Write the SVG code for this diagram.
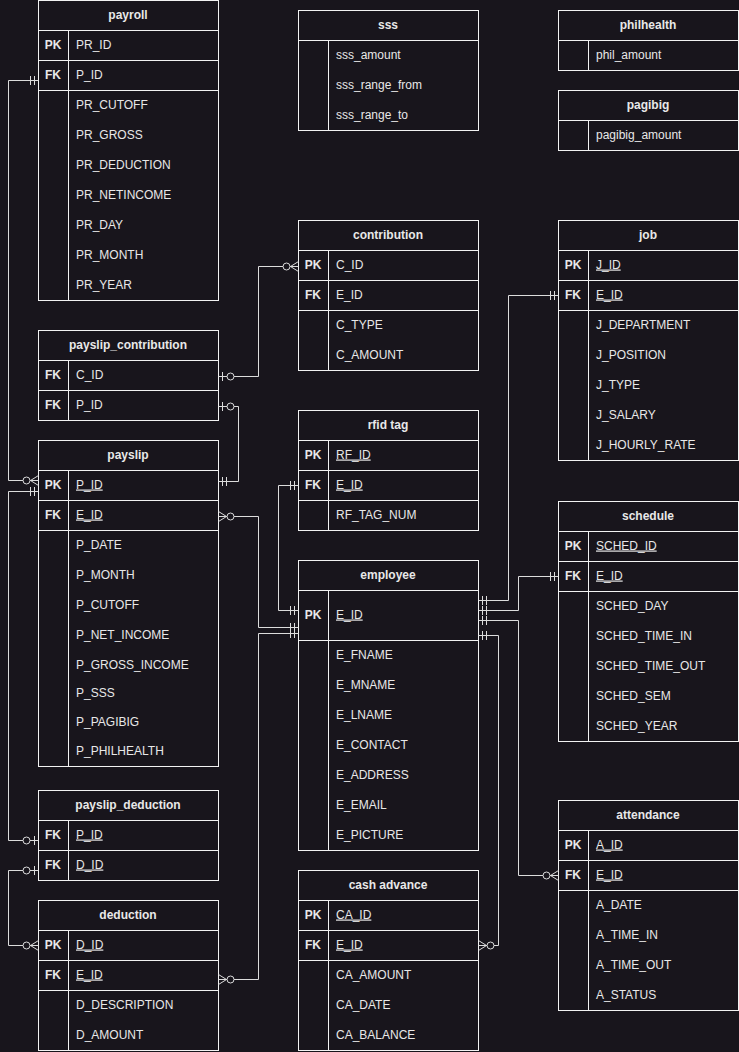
<svg xmlns="http://www.w3.org/2000/svg" width="739" height="1052" viewBox="0 0 739 1052">
<style>
.bg{fill:#18151c}
.tb{fill:#18151c;stroke:#f2f2f2;stroke-width:1}
.ln{stroke:#f2f2f2;stroke-width:1;fill:none}
text{font-family:"Liberation Sans",Arial,sans-serif;font-size:12px;fill:#e8e8e8;transform:translate(-0.5px,-1px)}
.t{font-weight:bold;text-anchor:middle}
.k{font-weight:bold;text-anchor:middle}
.u{text-decoration:underline}
.c{fill:none;stroke:#dcdcdc;stroke-width:1}
.mk{fill:none;stroke:#dcdcdc;stroke-width:1}
.mkc{fill:#18151c;stroke:#dcdcdc;stroke-width:1}
</style>
<defs>
<marker id="mOne" markerUnits="userSpaceOnUse" orient="auto-start-reverse" refX="0" refY="0" markerWidth="1" markerHeight="1" overflow="visible">
<path class="mk" d="M-8,-4.5V4.5M-4,-4.5V4.5"/>
</marker>
<marker id="zMany" markerUnits="userSpaceOnUse" orient="auto-start-reverse" refX="0" refY="0" markerWidth="1" markerHeight="1" overflow="visible">
<path class="mk" d="M-8,0L0,-5M-8,0L0,5"/>
<circle class="mkc" cx="-12" cy="0" r="3.5"/>
</marker>
<marker id="zOne" markerUnits="userSpaceOnUse" orient="auto-start-reverse" refX="0" refY="0" markerWidth="1" markerHeight="1" overflow="visible">
<path class="mk" d="M-4,-4.5V4.5"/>
<circle class="mkc" cx="-12" cy="0" r="3.5"/>
</marker>
</defs>
<rect class="bg" x="0" y="0" width="739" height="1052"/>
<g transform="translate(0.5,0.5)">

<g id="payroll">
<rect class="tb" x="38" y="0" width="180" height="300"/>
<path class="ln" d="M38,30H218M38,60H218M38,90H218M68,30V300"/>
<text class="t" x="128" y="19">payroll</text>
<text class="k" x="53" y="49">PK</text><text x="76" y="49">PR_ID</text>
<text class="k" x="53" y="79">FK</text><text x="76" y="79">P_ID</text>
<text x="76" y="109">PR_CUTOFF</text>
<text x="76" y="139">PR_GROSS</text>
<text x="76" y="169">PR_DEDUCTION</text>
<text x="76" y="199">PR_NETINCOME</text>
<text x="76" y="229">PR_DAY</text>
<text x="76" y="259">PR_MONTH</text>
<text x="76" y="289">PR_YEAR</text>
</g>

<g id="sss">
<rect class="tb" x="298" y="10" width="180" height="120"/>
<path class="ln" d="M298,40H478M328,40V130"/>
<text class="t" x="388" y="29">sss</text>
<text x="336" y="59">sss_amount</text>
<text x="336" y="89">sss_range_from</text>
<text x="336" y="119">sss_range_to</text>
</g>

<g id="philhealth">
<rect class="tb" x="558" y="10" width="180" height="60"/>
<path class="ln" d="M558,40H738M588,40V70"/>
<text class="t" x="648" y="29">philhealth</text>
<text x="596" y="59">phil_amount</text>
</g>

<g id="pagibig">
<rect class="tb" x="558" y="90" width="180" height="60"/>
<path class="ln" d="M558,120H738M588,120V150"/>
<text class="t" x="648" y="109">pagibig</text>
<text x="596" y="139">pagibig_amount</text>
</g>

<g id="contribution">
<rect class="tb" x="298" y="220" width="180" height="150"/>
<path class="ln" d="M298,250H478M298,280H478M298,310H478M328,250V370"/>
<text class="t" x="388" y="239">contribution</text>
<text class="k" x="313" y="269">PK</text><text x="336" y="269">C_ID</text>
<text class="k" x="313" y="299">FK</text><text x="336" y="299">E_ID</text>
<text x="336" y="329">C_TYPE</text>
<text x="336" y="359">C_AMOUNT</text>
</g>

<g id="job">
<rect class="tb" x="558" y="220" width="180" height="240"/>
<path class="ln" d="M558,250H738M558,280H738M558,310H738M588,250V460"/>
<text class="t" x="648" y="239">job</text>
<text class="k" x="573" y="269">PK</text><text class="u" x="596" y="269">J_ID</text>
<text class="k" x="573" y="299">FK</text><text class="u" x="596" y="299">E_ID</text>
<text x="596" y="329">J_DEPARTMENT</text>
<text x="596" y="359">J_POSITION</text>
<text x="596" y="389">J_TYPE</text>
<text x="596" y="419">J_SALARY</text>
<text x="596" y="449">J_HOURLY_RATE</text>
</g>

<g id="payslip_contribution">
<rect class="tb" x="38" y="330" width="180" height="90"/>
<path class="ln" d="M38,360H218M38,390H218M68,360V420"/>
<text class="t" x="128" y="349">payslip_contribution</text>
<text class="k" x="53" y="379">FK</text><text x="76" y="379">C_ID</text>
<text class="k" x="53" y="409">FK</text><text x="76" y="409">P_ID</text>
</g>

<g id="rfid_tag">
<rect class="tb" x="298" y="410" width="180" height="120"/>
<path class="ln" d="M298,440H478M298,470H478M298,500H478M328,440V530"/>
<text class="t" x="388" y="429">rfid tag</text>
<text class="k" x="313" y="459">PK</text><text class="u" x="336" y="459">RF_ID</text>
<text class="k" x="313" y="489">FK</text><text class="u" x="336" y="489">E_ID</text>
<text x="336" y="519">RF_TAG_NUM</text>
</g>

<g id="payslip">
<rect class="tb" x="38" y="440" width="180" height="326"/>
<path class="ln" d="M38,470H218M38,500H218M38,530H218M68,470V766"/>
<text class="t" x="128" y="459">payslip</text>
<text class="k" x="53" y="489">PK</text><text class="u" x="76" y="489">P_ID</text>
<text class="k" x="53" y="519">FK</text><text class="u" x="76" y="519">E_ID</text>
<text x="76" y="549">P_DATE</text>
<text x="76" y="579">P_MONTH</text>
<text x="76" y="609">P_CUTOFF</text>
<text x="76" y="639">P_NET_INCOME</text>
<text x="76" y="669">P_GROSS_INCOME</text>
<text x="76" y="697">P_SSS</text>
<text x="76" y="726">P_PAGIBIG</text>
<text x="76" y="755">P_PHILHEALTH</text>
</g>

<g id="employee">
<rect class="tb" x="298" y="560" width="180" height="290"/>
<path class="ln" d="M298,590H478M298,640H478M328,590V850"/>
<text class="t" x="388" y="579">employee</text>
<text class="k" x="313" y="619">PK</text><text class="u" x="336" y="619">E_ID</text>
<text x="336" y="659">E_FNAME</text>
<text x="336" y="689">E_MNAME</text>
<text x="336" y="719">E_LNAME</text>
<text x="336" y="749">E_CONTACT</text>
<text x="336" y="779">E_ADDRESS</text>
<text x="336" y="809">E_EMAIL</text>
<text x="336" y="839">E_PICTURE</text>
</g>

<g id="schedule">
<rect class="tb" x="558" y="501" width="180" height="240"/>
<path class="ln" d="M558,531H738M558,561H738M558,591H738M588,531V741"/>
<text class="t" x="648" y="520">schedule</text>
<text class="k" x="573" y="550">PK</text><text class="u" x="596" y="550">SCHED_ID</text>
<text class="k" x="573" y="580">FK</text><text class="u" x="596" y="580">E_ID</text>
<text x="596" y="610">SCHED_DAY</text>
<text x="596" y="640">SCHED_TIME_IN</text>
<text x="596" y="670">SCHED_TIME_OUT</text>
<text x="596" y="700">SCHED_SEM</text>
<text x="596" y="730">SCHED_YEAR</text>
</g>

<g id="payslip_deduction">
<rect class="tb" x="38" y="790" width="180" height="90"/>
<path class="ln" d="M38,820H218M38,850H218M68,820V880"/>
<text class="t" x="128" y="809">payslip_deduction</text>
<text class="k" x="53" y="839">FK</text><text class="u" x="76" y="839">P_ID</text>
<text class="k" x="53" y="869">FK</text><text class="u" x="76" y="869">D_ID</text>
</g>

<g id="deduction">
<rect class="tb" x="38" y="900" width="180" height="150"/>
<path class="ln" d="M38,930H218M38,960H218M38,990H218M68,930V1050"/>
<text class="t" x="128" y="919">deduction</text>
<text class="k" x="53" y="949">PK</text><text class="u" x="76" y="949">D_ID</text>
<text class="k" x="53" y="979">FK</text><text class="u" x="76" y="979">E_ID</text>
<text x="76" y="1009">D_DESCRIPTION</text>
<text x="76" y="1039">D_AMOUNT</text>
</g>

<g id="cash_advance">
<rect class="tb" x="298" y="870" width="180" height="180"/>
<path class="ln" d="M298,900H478M298,930H478M298,960H478M328,900V1050"/>
<text class="t" x="388" y="889">cash advance</text>
<text class="k" x="313" y="919">PK</text><text class="u" x="336" y="919">CA_ID</text>
<text class="k" x="313" y="949">FK</text><text class="u" x="336" y="949">E_ID</text>
<text x="336" y="979">CA_AMOUNT</text>
<text x="336" y="1009">CA_DATE</text>
<text x="336" y="1039">CA_BALANCE</text>
</g>

<g id="attendance">
<rect class="tb" x="558" y="800" width="180" height="210"/>
<path class="ln" d="M558,830H738M558,860H738M558,890H738M588,830V1010"/>
<text class="t" x="648" y="819">attendance</text>
<text class="k" x="573" y="849">PK</text><text class="u" x="596" y="849">A_ID</text>
<text class="k" x="573" y="879">FK</text><text class="u" x="596" y="879">E_ID</text>
<text x="596" y="909">A_DATE</text>
<text x="596" y="939">A_TIME_IN</text>
<text x="596" y="969">A_TIME_OUT</text>
<text x="596" y="999">A_STATUS</text>
</g>

<g id="connectors">
<path class="c" d="M38,80H8V480H38" marker-start="url(#mOne)" marker-end="url(#zMany)"/>
<path class="c" d="M38,491H8V840H38" marker-start="url(#mOne)" marker-end="url(#zOne)"/>
<path class="c" d="M38,870H8V945H38" marker-start="url(#zOne)" marker-end="url(#zMany)"/>
<path class="c" d="M218,376H258V266H298" marker-start="url(#zOne)" marker-end="url(#zMany)"/>
<path class="c" d="M218,406H238V481H218" marker-start="url(#zOne)" marker-end="url(#mOne)"/>
<path class="c" d="M218,516H258V627H298" marker-start="url(#zMany)" marker-end="url(#mOne)"/>
<path class="c" d="M218,979H258V633H298" marker-start="url(#zMany)" marker-end="url(#mOne)"/>
<path class="c" d="M298,485H278V610H298" marker-start="url(#mOne)" marker-end="url(#mOne)"/>
<path class="c" d="M478,600H508V295H558" marker-start="url(#mOne)" marker-end="url(#mOne)"/>
<path class="c" d="M478,610H518V576H558" marker-start="url(#mOne)" marker-end="url(#mOne)"/>
<path class="c" d="M478,620H518V875H558" marker-start="url(#mOne)" marker-end="url(#zMany)"/>
<path class="c" d="M478,635H498V945H478" marker-start="url(#mOne)" marker-end="url(#zMany)"/>
</g>

</g>
</svg>
